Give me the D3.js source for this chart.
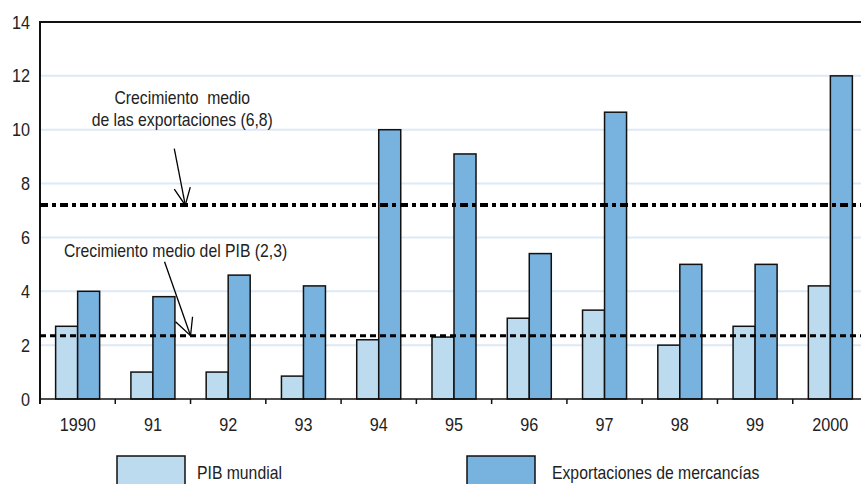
<!DOCTYPE html>
<html><head><meta charset="utf-8">
<script src="https://cdn.jsdelivr.net/npm/d3@7"></script>
<style>
html,body{margin:0;padding:0;background:#fff;}
svg{display:block;}
text{font-family:"Liberation Sans","Arial",sans-serif;fill:#222;}
</style></head>
<body>
<script>
const years = ["1990","91","92","93","94","95","96","97","98","99","2000"];
const pibMundial = [2.7, 1.0, 1.0, 0.85, 2.2, 2.3, 3.0, 3.3, 2.0, 2.7, 4.2];
const exportaciones = [4.0, 3.8, 4.6, 4.2, 10.0, 9.1, 5.4, 10.65, 5.0, 5.0, 12.0];
const yTicks = [0, 2, 4, 6, 8, 10, 12, 14];
const seriesNames = ["PIB mundial", "Exportaciones de mercancías"];
const colors = ["#bddbef", "#78b2de"];
const avgExportLine = 7.2, avgPibLine = 2.35;
const avgExportLabel = ["Crecimiento  medio", "de las exportaciones (6,8)"];
const avgPibLabel = "Crecimiento medio del PIB (2,3)";

(function () {
const W = 861, H = 484;
const svg = d3.select("body").append("svg").attr("width", W).attr("height", H);
const SX = 0.875, SXD = 0.9;

function label(parent, px, py, str, anchor, sx) {
  return parent.append("g").attr("transform", `translate(${px},${py}) scale(${sx},1)`)
    .append("text").attr("text-anchor", anchor || "start").attr("font-size", 18)
    .style("white-space", "pre").text(str);
}

const mLeft = 40, mRight = 868, mTop = 22, mBottom = 399;
const y = d3.scaleLinear().domain([0, 14]).range([mBottom, mTop]);
const x = d3.scaleBand().domain(years).range([mLeft, mRight]).paddingInner(0).paddingOuter(0);
const x1 = d3.scaleBand().domain([0, 1]).range([0, x.bandwidth()]).paddingInner(0).paddingOuter(0.71);

// gridlines
svg.append("g").selectAll("line").data(yTicks.filter(t => t > 0 && t < 14)).join("line")
  .attr("x1", mLeft).attr("x2", W).attr("y1", d => y(d)).attr("y2", d => y(d))
  .attr("stroke", "#dce9f6").attr("stroke-width", 2);

// y labels
const yl = svg.append("g");
yTicks.forEach(t => label(yl, 30, y(t) + 6.5, String(t), "end", SXD));

// bars
const data = years.map((yr, i) => ({yr, vals: [pibMundial[i], exportaciones[i]]}));
const g = svg.append("g").selectAll("g").data(data).join("g")
  .attr("transform", d => `translate(${x(d.yr)},0)`);
g.selectAll("rect").data(d => d.vals.map((v, k) => ({v, k}))).join("rect")
  .attr("x", d => x1(d.k)).attr("width", x1.bandwidth())
  .attr("y", d => y(d.v)).attr("height", d => y(0) - y(d.v))
  .attr("fill", d => colors[d.k]).attr("stroke", "#111").attr("stroke-width", 1.5);

// axes lines
svg.append("line").attr("x1", mLeft).attr("x2", W).attr("y1", y(14)).attr("y2", y(14))
  .attr("stroke", "#111").attr("stroke-width", 2);
svg.append("line").attr("x1", mLeft).attr("x2", mLeft).attr("y1", y(14) - 1).attr("y2", mBottom + 5)
  .attr("stroke", "#111").attr("stroke-width", 2);
svg.append("line").attr("x1", mLeft).attr("x2", W).attr("y1", mBottom).attr("y2", mBottom)
  .attr("stroke", "#111").attr("stroke-width", 1.5);
svg.append("g").selectAll("line").data(years.slice(0, -1)).join("line")
  .attr("x1", d => x(d) + x.bandwidth()).attr("x2", d => x(d) + x.bandwidth())
  .attr("y1", mBottom).attr("y2", mBottom + 5).attr("stroke", "#111").attr("stroke-width", 1.5);

// x labels
const xl = svg.append("g");
years.forEach(d => label(xl, x(d) + x.bandwidth() / 2, 431, d, "middle", SXD));

// average lines
svg.append("line").attr("x1", mLeft).attr("x2", W).attr("y1", y(avgExportLine)).attr("y2", y(avgExportLine))
  .attr("stroke", "#000").attr("stroke-width", 4).attr("stroke-dasharray", "8,4,4,4");
svg.append("line").attr("x1", mLeft).attr("x2", W).attr("y1", y(avgPibLine)).attr("y2", y(avgPibLine))
  .attr("stroke", "#000").attr("stroke-width", 3).attr("stroke-dasharray", "6,4");

// annotations
const bw = x.bandwidth();
function arrow(x0, y0, x1p, y1p, w1, w2) {
  const ga = svg.append("g").attr("stroke", "#000").attr("stroke-width", 1.3).attr("fill", "none");
  ga.append("line").attr("x1", x0).attr("y1", y0).attr("x2", x1p).attr("y2", y1p);
  ga.append("polyline").attr("points", `${w1[0]},${w1[1]} ${x1p},${y1p} ${w2[0]},${w2[1]}`);
}
const exTipX = x("91") + bw * 0.93, exTipY = y(avgExportLine);
arrow(exTipX - 11, y(9.3), exTipX, exTipY, [exTipX - 11, exTipY - 16], [exTipX + 5, exTipY - 18]);
const pibTipX = x("91") + bw, pibTipY = y(avgPibLine);
arrow(pibTipX - 26, y(5.1), pibTipX, pibTipY, [pibTipX - 15, pibTipY - 14], [pibTipX + 2, pibTipY - 19]);

const tx = x("91") + bw * 0.89;
label(svg, tx, 104, avgExportLabel[0], "middle", SX);
label(svg, tx, 126, avgExportLabel[1], "middle", SX);
label(svg, 64, 257, avgPibLabel, "start", SX);

// legend
const legX = [117, 467];
seriesNames.forEach((n, k) => {
  svg.append("rect").attr("x", legX[k]).attr("y", 456).attr("width", 68).attr("height", 32)
    .attr("fill", colors[k]).attr("stroke", "#111").attr("stroke-width", 1.5);
  label(svg, legX[k] + 80 + (k ? 5 : 0), 479, n, "start", SX);
});
})();
</script>
</body></html>
